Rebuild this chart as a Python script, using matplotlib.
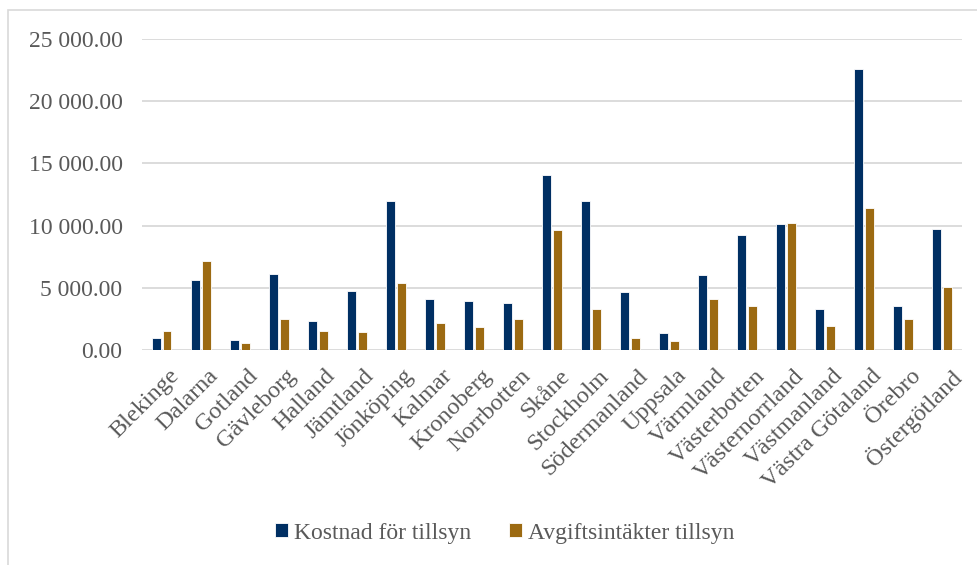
import matplotlib.pyplot as plt
import matplotlib.transforms as mtransforms
import numpy as np
from matplotlib.patches import Rectangle

lan = ["Blekinge", "Dalarna", "Gotland", "Gävleborg", "Halland", "Jämtland",
       "Jönköping", "Kalmar", "Kronoberg", "Norrbotten", "Skåne", "Stockholm",
       "Södermanland", "Uppsala", "Värmland", "Västerbotten", "Västernorrland",
       "Västmanland", "Västra Götaland", "Örebro", "Östergötland"]
kostnad = [940, 5650, 830, 6075, 2370, 4730, 11960, 4140, 3900, 3790, 14090,
           11990, 4680, 1370, 6020, 9270, 10130, 3330, 22550, 3550, 9700]
avgift = [1500, 7150, 590, 2530, 1500, 1480, 5380, 2200, 1830, 2530, 9680,
          3330, 1000, 750, 4140, 3550, 10190, 1935, 11400, 2530, 5100]

plt.rcParams['font.family'] = ['Liberation Serif', 'DejaVu Serif']

fig = plt.figure(figsize=(9.78, 5.65), dpi=100)
ax = fig.add_axes([0.1452, 0.3805, 0.8384, 0.5505])

# chart border like the office export (left and top edges visible)
top = 1 - 10 / 565
fig.patches.append(Rectangle((8 / 978, -0.1), 1.2, top + 0.1,
                             transform=fig.transFigure, fill=False,
                             edgecolor='#D9D9D9', linewidth=1.2))

x = np.arange(len(lan))
w = 0.23
ax.bar(x - 0.14, kostnad, w, color='#002F63', edgecolor='white', linewidth=0.6,
       label="Kostnad för tillsyn", zorder=3)
ax.bar(x + 0.14, avgift, w, color='#9C6A12', edgecolor='white', linewidth=0.6,
       label="Avgiftsintäkter tillsyn", zorder=3)

ax.set_xlim(-0.5, len(lan) - 0.5)
ax.set_ylim(0, 25000)
ax.set_yticks(np.arange(0, 25001, 5000))
ax.set_yticklabels([f"{v:,.2f}".replace(",", " ") for v in np.arange(0, 25001, 5000)])
ax.grid(axis='y', color='#D9D9D9', linewidth=1.3, zorder=0)
for s in ax.spines.values():
    s.set_visible(False)
ax.tick_params(axis='y', length=0, pad=14, labelsize=17, labelcolor='#595959')
ax.tick_params(axis='x', length=0, pad=11, labelsize=17.5, labelcolor='#595959')
ax.set_xticks(x)
ax.set_xticklabels(lan, rotation=45, ha='right', rotation_mode='anchor')
shift = mtransforms.ScaledTranslation(5 / 72, 0, fig.dpi_scale_trans)
for lbl in ax.get_xticklabels():
    lbl.set_transform(lbl.get_transform() + shift)

fig.legend(loc='center', bbox_to_anchor=(0.516, 1 - 533 / 565), ncol=2, frameon=False,
           fontsize=17, labelcolor='#595959', handlelength=0.55, handleheight=0.55,
           handletextpad=0.25, columnspacing=1.6)

fig.savefig("out.png", dpi=100)
